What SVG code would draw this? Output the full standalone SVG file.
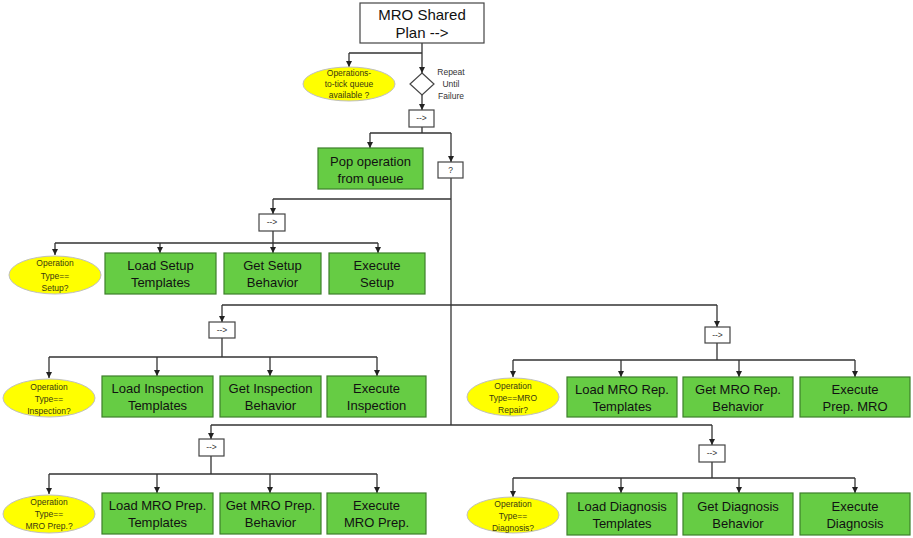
<svg xmlns="http://www.w3.org/2000/svg" width="913" height="538" viewBox="0 0 913 538">
<defs>
<marker id="ah" markerWidth="6" markerHeight="6" refX="6" refY="3" orient="auto" markerUnits="userSpaceOnUse">
<path d="M0,0 L6,3 L0,6 z" fill="#222"/>
</marker>
<style>
.g{fill:#66cc44;stroke:#3d7f2a;stroke-width:1.2}
.w{fill:#fff;stroke:#444;stroke-width:1.2}
.y{fill:#ffff00;stroke:#bfbfbf;stroke-width:1}
.t{font-family:"Liberation Sans",Arial,sans-serif;font-size:13px;fill:#111;text-anchor:middle}
.s{font-family:"Liberation Sans",Arial,sans-serif;font-size:8.5px;fill:#333;text-anchor:middle}
.e{font-family:"Liberation Sans",Arial,sans-serif;font-size:8.5px;fill:#3a3a10;text-anchor:middle}
.c{fill:none;stroke:#333;stroke-width:1.3}
.a{fill:none;stroke:#333;stroke-width:1.3;marker-end:url(#ah)}
</style>
</defs>
<rect width="913" height="538" fill="#fff"/>
<g id="connectors">
<path class="c" d="M422,43 V53 M349,53 H422"/>
<path class="a" d="M349,53 V67"/>
<path class="a" d="M422,53 V73"/>
<path class="a" d="M422,95 V110"/>
<path class="c" d="M422,127 V133 M370,133 H451"/>
<path class="a" d="M370,133 V148"/>
<path class="a" d="M451,133 V162"/>
<path class="c" d="M451,178 V425"/>
<path class="c" d="M451,199 H273"/>
<path class="a" d="M273,199 V214"/>
<path class="c" d="M273,231 V243 M55,243 H378"/>
<path class="a" d="M55,243 V255"/>
<path class="a" d="M160,243 V253"/>
<path class="a" d="M273,243 V253"/>
<path class="a" d="M378,243 V253"/>
<path class="c" d="M222,305 H717"/>
<path class="a" d="M222,305 V322"/>
<path class="a" d="M717,305 V327"/>
<path class="c" d="M222,338 V357 M49,357 H377"/>
<path class="a" d="M49,357 V378"/>
<path class="a" d="M157,357 V376"/>
<path class="a" d="M270,357 V376"/>
<path class="a" d="M377,357 V376"/>
<path class="c" d="M717,343 V360 M513,360 H855"/>
<path class="a" d="M513,360 V377"/>
<path class="a" d="M621,360 V377"/>
<path class="a" d="M739,360 V377"/>
<path class="a" d="M855,360 V377"/>
<path class="c" d="M211,425 H712"/>
<path class="a" d="M211,425 V439"/>
<path class="a" d="M712,425 V445"/>
<path class="c" d="M211,456 V474 M49,474 H377"/>
<path class="a" d="M49,474 V494"/>
<path class="a" d="M157,474 V493"/>
<path class="a" d="M270,474 V493"/>
<path class="a" d="M377,474 V493"/>
<path class="c" d="M712,462 V478 M513,478 H855"/>
<path class="a" d="M513,478 V497"/>
<path class="a" d="M621,478 V493"/>
<path class="a" d="M739,478 V493"/>
<path class="a" d="M855,478 V493"/>
</g>
<g id="root">
<rect class="w" x="360" y="3" width="124" height="40"/>
<text class="t" x="422" y="20" style="font-size:15px">MRO Shared</text>
<text class="t" x="422" y="38" style="font-size:15px">Plan --&gt;</text>
</g>
<g id="queueAvailable">
<ellipse class="y" cx="349" cy="84" rx="46" ry="17"/>
<text class="e" x="349" y="76">Operations-</text>
<text class="e" x="349" y="87">to-tick queue</text>
<text class="e" x="349" y="98">available ?</text>
</g>
<g id="repeat">
<polygon class="w" points="422,73 434,84 422,95 410,84"/>
<text class="s" x="451" y="75">Repeat</text>
<text class="s" x="451" y="87">Until</text>
<text class="s" x="451" y="99">Failure</text>
</g>
<g id="seqMain">
<rect class="w" x="409" y="110" width="25" height="17"/>
<text class="s" x="421.5" y="121">--&gt;</text>
</g>
<g id="pop">
<rect class="g" x="318" y="148" width="105" height="41"/>
<text class="t" x="370.5" y="166">Pop operation</text>
<text class="t" x="370.5" y="183">from queue</text>
</g>
<g id="selector">
<rect class="w" x="438" y="162" width="25" height="16"/>
<text class="s" x="450.5" y="173">?</text>
</g>
<g id="seqSetup">
<rect class="w" x="259" y="214" width="26" height="17"/>
<text class="s" x="272" y="225">--&gt;</text>
</g>
<g id="condSetup">
<ellipse class="y" cx="55" cy="275" rx="46" ry="19"/>
<text class="e" x="55" y="266">Operation</text>
<text class="e" x="55" y="279">Type==</text>
<text class="e" x="55" y="291">Setup?</text>
</g>
<g id="loadSetup">
<rect class="g" x="105" y="253" width="111" height="41"/>
<text class="t" x="160.5" y="270">Load Setup</text>
<text class="t" x="160.5" y="287">Templates</text>
</g>
<g id="getSetup">
<rect class="g" x="224" y="253" width="97" height="41"/>
<text class="t" x="272.5" y="270">Get Setup</text>
<text class="t" x="272.5" y="287">Behavior</text>
</g>
<g id="execSetup">
<rect class="g" x="329" y="253" width="96" height="41"/>
<text class="t" x="377" y="270">Execute</text>
<text class="t" x="377" y="287">Setup</text>
</g>
<g id="seqInspection">
<rect class="w" x="209" y="322" width="26" height="16"/>
<text class="s" x="222" y="333">--&gt;</text>
</g>
<g id="condInspection">
<ellipse class="y" cx="49" cy="398" rx="46" ry="19"/>
<text class="e" x="49" y="390">Operation</text>
<text class="e" x="49" y="402">Type==</text>
<text class="e" x="49" y="414">Inspection?</text>
</g>
<g id="loadInspection">
<rect class="g" x="102" y="376" width="111" height="41"/>
<text class="t" x="157.5" y="393">Load Inspection</text>
<text class="t" x="157.5" y="410">Templates</text>
</g>
<g id="getInspection">
<rect class="g" x="220" y="376" width="101" height="41"/>
<text class="t" x="270.5" y="393">Get Inspection</text>
<text class="t" x="270.5" y="410">Behavior</text>
</g>
<g id="execInspection">
<rect class="g" x="327" y="376" width="99" height="41"/>
<text class="t" x="376.5" y="393">Execute</text>
<text class="t" x="376.5" y="410">Inspection</text>
</g>
<g id="seqRepair">
<rect class="w" x="705" y="327" width="25" height="16"/>
<text class="s" x="717.5" y="338">--&gt;</text>
</g>
<g id="condRepair">
<ellipse class="y" cx="513" cy="397" rx="46" ry="19"/>
<text class="e" x="513" y="389">Operation</text>
<text class="e" x="513" y="401">Type==MRO</text>
<text class="e" x="513" y="413">Repair?</text>
</g>
<g id="loadRepair">
<rect class="g" x="567" y="377" width="110" height="40"/>
<text class="t" x="622" y="394">Load MRO Rep.</text>
<text class="t" x="622" y="411">Templates</text>
</g>
<g id="getRepair">
<rect class="g" x="683" y="377" width="110" height="40"/>
<text class="t" x="738" y="394">Get MRO Rep.</text>
<text class="t" x="738" y="411">Behavior</text>
</g>
<g id="execRepair">
<rect class="g" x="800" y="377" width="110" height="40"/>
<text class="t" x="855" y="394">Execute</text>
<text class="t" x="855" y="411">Prep. MRO</text>
</g>
<g id="seqPrep">
<rect class="w" x="199" y="439" width="25" height="17"/>
<text class="s" x="211.5" y="450">--&gt;</text>
</g>
<g id="condPrep">
<ellipse class="y" cx="49" cy="514" rx="46" ry="19"/>
<text class="e" x="49" y="505">Operation</text>
<text class="e" x="49" y="517">Type==</text>
<text class="e" x="49" y="529">MRO Prep.?</text>
</g>
<g id="loadPrep">
<rect class="g" x="102" y="493" width="111" height="41"/>
<text class="t" x="157.5" y="510">Load MRO Prep.</text>
<text class="t" x="157.5" y="527">Templates</text>
</g>
<g id="getPrep">
<rect class="g" x="220" y="493" width="101" height="41"/>
<text class="t" x="270.5" y="510">Get MRO Prep.</text>
<text class="t" x="270.5" y="527">Behavior</text>
</g>
<g id="execPrep">
<rect class="g" x="327" y="493" width="99" height="41"/>
<text class="t" x="376.5" y="510">Execute</text>
<text class="t" x="376.5" y="527">MRO Prep.</text>
</g>
<g id="seqDiagnosis">
<rect class="w" x="699" y="445" width="26" height="17"/>
<text class="s" x="712" y="456">--&gt;</text>
</g>
<g id="condDiagnosis">
<ellipse class="y" cx="513" cy="515" rx="46" ry="18"/>
<text class="e" x="513" y="507">Operation</text>
<text class="e" x="513" y="519">Type==</text>
<text class="e" x="513" y="531">Diagnosis?</text>
</g>
<g id="loadDiagnosis">
<rect class="g" x="567" y="493" width="110" height="42"/>
<text class="t" x="622" y="511">Load Diagnosis</text>
<text class="t" x="622" y="528">Templates</text>
</g>
<g id="getDiagnosis">
<rect class="g" x="683" y="493" width="110" height="42"/>
<text class="t" x="738" y="511">Get Diagnosis</text>
<text class="t" x="738" y="528">Behavior</text>
</g>
<g id="execDiagnosis">
<rect class="g" x="800" y="493" width="110" height="42"/>
<text class="t" x="855" y="511">Execute</text>
<text class="t" x="855" y="528">Diagnosis</text>
</g>
</svg>
